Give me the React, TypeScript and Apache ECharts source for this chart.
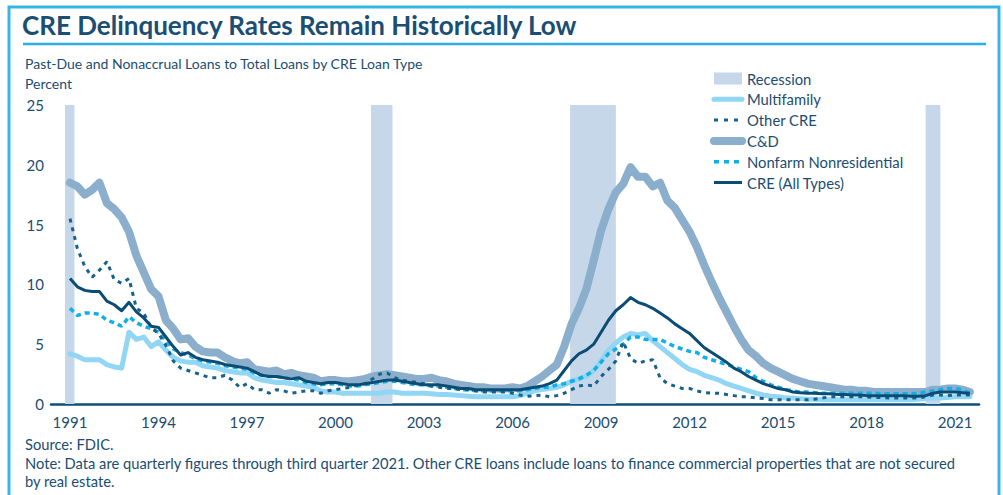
import React, { useEffect, useRef } from "react";
import * as echarts from "echarts";

const firstYear = 1991;
const lastYear = 2021;
const lastQuarter = 3;

const xTickYears = [1991, 1994, 1997, 2000, 2003, 2006, 2009, 2012, 2015, 2018, 2021];
const yTicks = [0, 5, 10, 15, 20, 25];

// Recession periods (fractional years)
const recessions: [number, number][] = [
  [1990.83, 1991.15],
  [2001.2, 2001.93],
  [2007.95, 2009.5],
  [2020.0, 2020.5],
];

const cd = [
  18.5, 18.2, 17.5, 17.9,
  18.5, 16.8, 16.3, 15.6,
  14.4, 12.4, 11.0, 9.6,
  9.0, 7.0, 6.3, 5.4,
  5.5, 4.8, 4.4, 4.3,
  4.3, 3.9, 3.6, 3.4,
  3.5, 2.9, 2.8, 2.7,
  2.8, 2.5, 2.6, 2.4,
  2.3, 2.2, 1.9, 2.0,
  2.0, 1.9, 1.9, 2.0,
  2.1, 2.3, 2.4, 2.5,
  2.4, 2.3, 2.2, 2.1,
  2.1, 2.2, 2.0, 1.9,
  1.7, 1.6, 1.5, 1.4,
  1.4, 1.3, 1.3, 1.3,
  1.4, 1.3, 1.5, 1.9,
  2.3, 2.8, 3.3, 4.8,
  6.7, 8.0, 9.6, 12.0,
  14.5, 16.3, 17.7, 18.4,
  19.8, 19.0, 19.0, 18.2,
  18.5, 17.0, 16.4, 15.4,
  14.4, 13.1, 11.6, 10.2,
  8.9, 7.7, 6.5, 5.4,
  4.5, 4.0, 3.4, 3.0,
  2.7, 2.4, 2.1, 1.9,
  1.7, 1.6, 1.5, 1.4,
  1.3, 1.2, 1.2, 1.1,
  1.1, 1.0, 1.0, 1.0,
  1.0, 1.0, 1.0, 1.0,
  1.0, 1.2, 1.2, 1.3,
  1.3, 1.2, 1.0,
];

const creAll = [
  10.5, 9.8, 9.5, 9.4,
  9.4, 8.6, 8.3, 7.8,
  8.5, 7.7, 7.2, 6.5,
  6.4, 5.6, 4.8, 4.1,
  4.3, 3.9, 3.7, 3.6,
  3.5, 3.3, 3.2, 3.1,
  3.0, 2.7, 2.4, 2.3,
  2.3, 2.2, 2.1, 2.2,
  1.9, 1.8, 1.7, 1.8,
  1.8, 1.7, 1.6, 1.6,
  1.7, 1.8, 1.9, 2.0,
  2.0, 1.9, 1.8, 1.7,
  1.6, 1.6, 1.6, 1.5,
  1.4, 1.3, 1.3, 1.2,
  1.2, 1.2, 1.2, 1.2,
  1.2, 1.2, 1.3, 1.4,
  1.5, 1.7, 2.0, 2.8,
  3.6, 4.2, 4.5, 5.0,
  6.0, 7.0, 7.8, 8.3,
  8.9, 8.5, 8.3, 8.0,
  7.6, 7.2, 6.7, 6.3,
  5.9, 5.3, 4.7, 4.3,
  3.9, 3.5, 3.0, 2.7,
  2.3, 2.0, 1.7, 1.5,
  1.3, 1.2, 1.0, 0.95,
  0.9, 0.9, 0.85, 0.85,
  0.8, 0.8, 0.75, 0.75,
  0.7, 0.7, 0.7, 0.7,
  0.7, 0.7, 0.65, 0.65,
  0.7, 0.9, 1.0, 1.0,
  1.0, 0.95, 0.9,
];

const multifamily = [
  4.2, 4.0, 3.7, 3.7,
  3.7, 3.3, 3.1, 3.0,
  6.0, 5.4, 5.6, 4.8,
  5.2, 4.5, 3.9, 3.6,
  3.5, 3.5, 3.2, 3.1,
  3.0, 2.8, 2.7, 2.6,
  2.6, 2.2, 2.0, 1.9,
  1.8, 1.8, 1.7, 1.6,
  1.5, 1.4, 1.1, 1.0,
  1.0, 0.9, 0.9, 0.9,
  0.9, 0.9, 0.9, 1.0,
  1.0, 0.9, 0.9, 0.9,
  0.9, 0.85, 0.8, 0.8,
  0.75, 0.7, 0.65, 0.6,
  0.6, 0.6, 0.6, 0.6,
  0.6, 0.7, 0.9, 1.1,
  1.2, 1.3, 1.4, 1.6,
  1.9, 2.1, 2.3, 2.8,
  3.6, 4.5, 5.1, 5.6,
  5.9, 5.8, 5.9, 5.3,
  4.8, 4.3, 3.8, 3.3,
  2.9, 2.7, 2.4, 2.2,
  2.0, 1.7, 1.5, 1.3,
  1.1, 0.9, 0.75, 0.65,
  0.6, 0.5, 0.5, 0.45,
  0.4, 0.4, 0.35, 0.35,
  0.35, 0.35, 0.35, 0.35,
  0.35, 0.35, 0.35, 0.35,
  0.35, 0.35, 0.35, 0.4,
  0.45, 0.5, 0.5, 0.55,
  0.6, 0.6, 0.6,
];

const nonfarm = [
  8.0, 7.4, 7.6, 7.6,
  7.5, 7.0, 6.8, 6.5,
  7.3, 6.8, 6.5, 6.3,
  6.0, 5.3, 4.6, 4.3,
  4.1, 3.8, 3.6, 3.5,
  3.4, 3.2, 3.1, 3.0,
  2.9, 2.6, 2.4, 2.3,
  2.3, 2.2, 2.1, 2.0,
  1.8, 1.7, 1.6, 1.7,
  1.7, 1.6, 1.5, 1.5,
  1.6, 1.7, 1.8, 1.9,
  1.9, 1.8, 1.7, 1.6,
  1.6, 1.5, 1.5, 1.4,
  1.3, 1.2, 1.2, 1.1,
  1.1, 1.1, 1.1, 1.1,
  1.1, 1.1, 1.2, 1.3,
  1.4, 1.4, 1.6, 1.7,
  1.9, 2.1, 2.4, 2.8,
  3.5, 4.2, 4.6, 5.0,
  5.6, 5.6, 5.4, 5.4,
  5.4, 5.1, 4.8, 4.6,
  4.4, 4.3, 3.9, 3.7,
  3.5, 3.3, 3.1, 2.9,
  2.7, 2.2, 1.9, 1.6,
  1.4, 1.2, 1.1, 1.0,
  1.0, 0.95, 0.9, 0.9,
  0.9, 0.9, 0.9, 0.9,
  0.9, 0.9, 0.85, 0.85,
  0.85, 0.85, 0.85, 0.9,
  1.0, 1.1, 1.2, 1.3,
  1.3, 1.2, 0.9,
];

const otherCre = [
  15.5, 13.0, 11.5, 10.6,
  11.2, 11.9, 10.4, 10.1,
  10.5, 8.0, 7.6, 6.4,
  5.9, 4.9, 3.6, 3.0,
  2.8, 2.6, 2.4, 2.2,
  2.2, 2.4, 2.0, 1.4,
  1.7, 1.2, 1.2, 0.9,
  1.2, 1.1, 0.9, 1.0,
  1.1, 1.1, 0.9, 1.1,
  1.2, 1.3, 1.4, 1.6,
  1.7, 2.1, 2.5, 2.6,
  2.2, 2.0, 1.9, 1.8,
  1.7, 1.5, 1.4, 1.3,
  1.3, 1.2, 1.2, 1.1,
  1.0, 1.0, 1.0, 1.0,
  0.9, 0.75, 0.65, 0.7,
  0.75, 0.6, 0.7, 0.9,
  1.2, 1.5, 1.6, 1.5,
  2.3, 2.9, 3.6, 5.2,
  3.8, 3.4, 3.6, 3.7,
  2.2, 1.7, 1.5, 1.3,
  1.3, 1.1, 0.95, 0.9,
  0.9, 0.8, 0.7, 0.6,
  0.6, 0.5, 0.45, 0.35,
  0.35, 0.35, 0.35, 0.35,
  0.35, 0.4, 0.5, 0.6,
  0.6, 0.6, 0.6, 0.6,
  0.6, 0.55, 0.55, 0.5,
  0.5, 0.5, 0.5, 0.5,
  0.6, 0.75, 0.75, 0.7,
  0.75, 0.75, 0.75,
];

const quarters: number[] = [];
for (let y = firstYear; y <= lastYear; y++) {
  for (let q = 1; q <= 4; q++) {
    if (y === lastYear && q > lastQuarter) break;
    quarters.push(y + (q - 1) / 4);
  }
}

const pair = (arr: number[]) => quarters.map((x, i) => [x, arr[i]]);

const FONT = "Lato, 'Noto Sans', sans-serif";
const TEXT = "#1b4d72";

const C_REC = "#c5d7e8";
const C_CD = "#8aaecb";
const C_MF = "#92d6f5";
const C_NF = "#12aee8";
const C_OT = "#16628c";
const C_CRE = "#0b4c75";

export default function App() {
  const ref = useRef<HTMLDivElement>(null);
  useEffect(() => {
    if (!ref.current) return;
    const chart = echarts.init(ref.current, undefined, { renderer: "svg" });
    chart.setOption({
      animation: false,
      backgroundColor: "#ffffff",
      textStyle: { fontFamily: FONT },
      grid: { left: 51, right: 24, top: 105, bottom: 91, containLabel: false, outerBoundsMode: "none" },
      xAxis: {
        type: "value",
        min: 1990.356,
        max: 2021.81,
        axisLine: { show: true, lineStyle: { color: "#0d4f7a", width: 2.5 } },
        axisTick: { show: false },
        splitLine: { show: false },
        axisLabel: {
          customValues: xTickYears,
          formatter: (v: number) => String(Math.round(v)),
          color: TEXT,
          fontSize: 15,
          margin: 10,
          fontFamily: FONT,
        },
      },
      yAxis: {
        type: "value",
        min: 0,
        max: 25,
        interval: 5,
        axisLine: { show: false },
        axisTick: { show: false },
        splitLine: { show: false },
        axisLabel: { color: TEXT, fontSize: 15, margin: 7, fontFamily: FONT,
          customValues: yTicks },
      },
      legend: {
        orient: "vertical",
        left: 705,
        top: 66,
        itemWidth: 28,
        itemHeight: 12,
        itemGap: 5.8,
        itemStyle: { opacity: 0 },
        textStyle: { color: TEXT, fontSize: 14.8, lineHeight: 14, fontFamily: FONT },
        data: [
          { name: "Recession", icon: "rect", itemStyle: { color: C_REC, opacity: 1 } },
          { name: "Multifamily", lineStyle: { width: 5, color: C_MF, cap: "round" } },
          { name: "Other CRE", lineStyle: { width: 3, color: C_OT, type: [4, 6] } },
          { name: "C&D", lineStyle: { width: 8, color: C_CD, cap: "round" } },
          { name: "Nonfarm Nonresidential", lineStyle: { width: 3.5, color: C_NF, type: [5, 5] } },
          { name: "CRE (All Types)", lineStyle: { width: 3, color: C_CRE } },
        ],
      },
      series: [
        {
          name: "Recession",
          type: "line",
          data: [],
          itemStyle: { color: C_REC },
          lineStyle: { color: C_REC },
          markArea: {
            silent: true,
            itemStyle: { color: C_REC },
            data: recessions.map(([a, b]) => [{ xAxis: a }, { xAxis: b }]),
          },
        },
        {
          name: "C&D",
          type: "line",
          data: pair(cd),
          symbol: "none",
          itemStyle: { color: C_CD },
          lineStyle: { color: C_CD, width: 8, join: "round", cap: "round" },
        },
        {
          name: "Multifamily",
          type: "line",
          data: pair(multifamily),
          symbol: "none",
          itemStyle: { color: C_MF },
          lineStyle: { color: C_MF, width: 5, join: "round", cap: "round" },
        },
        {
          name: "Nonfarm Nonresidential",
          type: "line",
          data: pair(nonfarm),
          symbol: "none",
          itemStyle: { color: C_NF },
          lineStyle: { color: C_NF, width: 3.5, type: [5, 4] },
        },
        {
          name: "Other CRE",
          type: "line",
          data: pair(otherCre),
          symbol: "none",
          itemStyle: { color: C_OT },
          lineStyle: { color: C_OT, width: 3, type: [4, 5] },
        },
        {
          name: "CRE (All Types)",
          type: "line",
          data: pair(creAll),
          symbol: "none",
          itemStyle: { color: C_CRE },
          lineStyle: { color: C_CRE, width: 3, join: "round" },
        },
      ],
      graphic: [
        {
          type: "rect",
          shape: { x: 9, y: 7, width: 990, height: 500 },
          style: { fill: "none", stroke: "#36b6e7", lineWidth: 3 },
          silent: true,
        },
        {
          type: "text",
          left: 22,
          top: 12,
          style: { text: "CRE Delinquency Rates Remain Historically Low", fill: "#1a4e72",
            font: `bold 26px ${FONT}` },
        },
        {
          type: "line",
          shape: { x1: 23, y1: 44, x2: 986, y2: 44 },
          style: { stroke: "#2aaee4", lineWidth: 2.5 },
        },
        {
          type: "text",
          left: 25,
          top: 56,
          style: { text: "Past-Due and Nonaccrual Loans to Total Loans by CRE Loan Type", fill: TEXT,
            font: `14px ${FONT}` },
        },
        {
          type: "text",
          left: 25,
          top: 76,
          style: { text: "Percent", fill: TEXT, font: `14px ${FONT}` },
        },
        {
          type: "text",
          left: 25,
          top: 436,
          style: { text: "Source: FDIC.", fill: TEXT, font: `14.7px ${FONT}` },
        },
        {
          type: "text",
          left: 25,
          top: 455,
          style: { text: "Note: Data are quarterly figures through third quarter 2021. Other CRE loans include loans to finance commercial properties that are not secured", fill: TEXT, font: `14.7px ${FONT}` },
        },
        {
          type: "text",
          left: 25,
          top: 473,
          style: { text: "by real estate.", fill: TEXT, font: `14.7px ${FONT}` },
        },
      ],
    });
    return () => chart.dispose();
  }, []);
  return (
    <div
      ref={ref}
      style={{ position: "fixed", left: 0, top: 0, width: 1003, height: 495 }}
    />
  );
}
